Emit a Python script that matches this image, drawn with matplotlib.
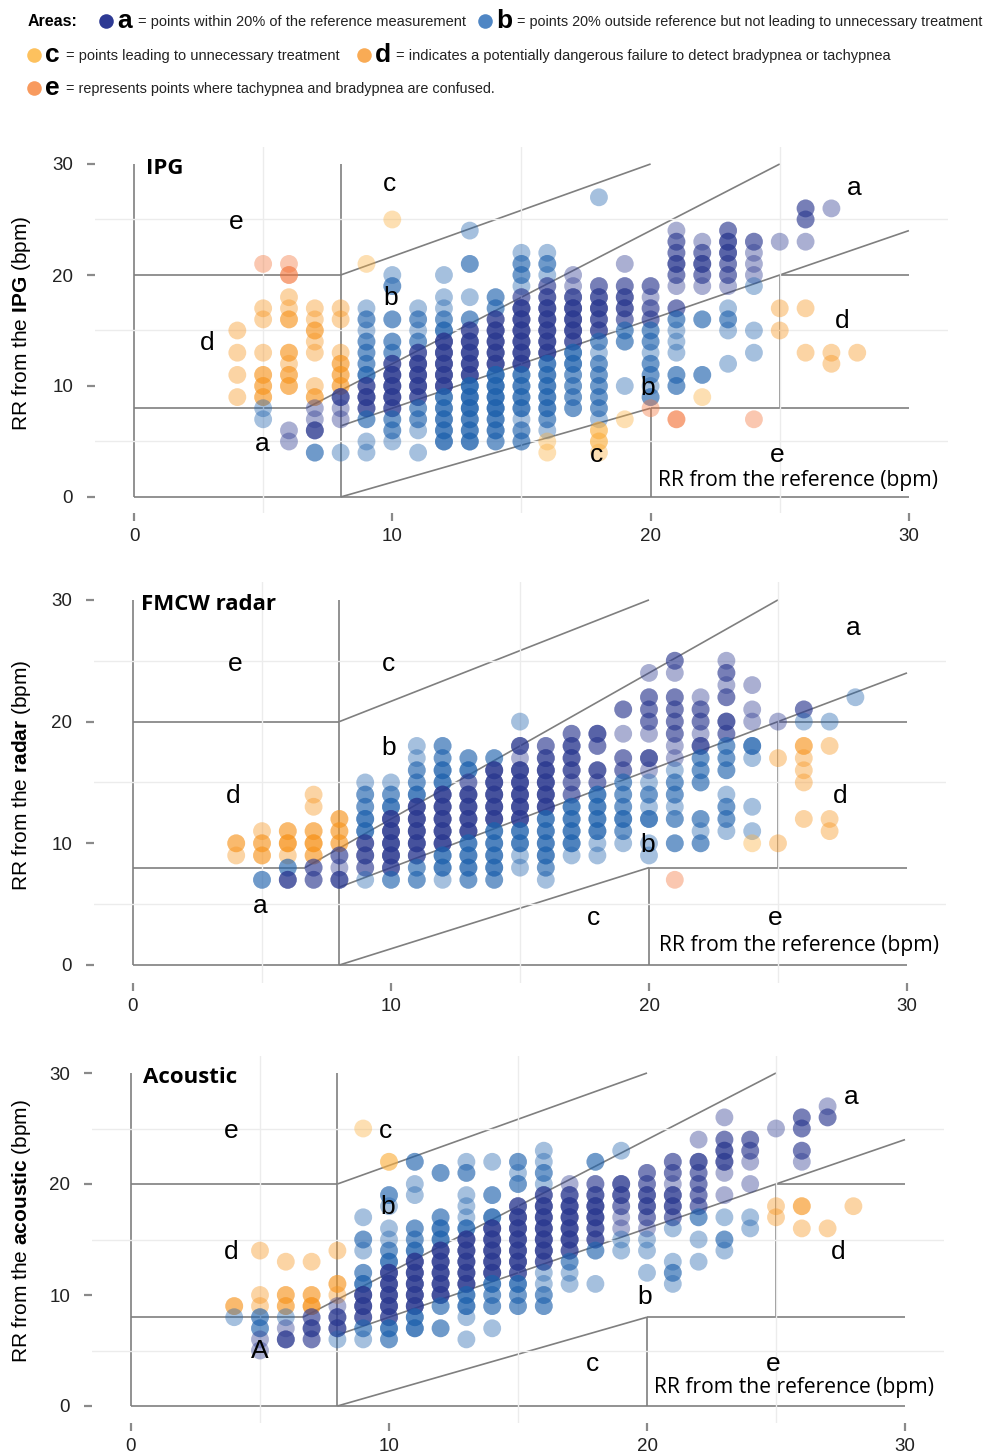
import numpy as np
import matplotlib.pyplot as plt

plt.rcParams["mathtext.fontset"] = "custom"
plt.rcParams["mathtext.rm"] = "Liberation Sans"
plt.rcParams["mathtext.bf"] = "Liberation Sans:bold"

# (x = reference RR, y = device RR, n = overlapping readings)
IPG_PTS = [
    (4, 15, 1), (4, 13, 1), (4, 11, 1), (4, 9, 1),
    (5, 21, 1), (5, 17, 1), (5, 16, 1), (5, 13, 1), (5, 11, 2), (5, 10, 2), (5, 9, 2), (5, 8, 1), (5, 7, 1),
    (6, 21, 1), (6, 20, 2), (6, 18, 1), (6, 17, 1), (6, 16, 2), (6, 13, 2), (6, 12, 1), (6, 11, 2), (6, 10, 2),
    (6, 6, 1), (6, 5, 1),
    (7, 17, 1), (7, 16, 1), (7, 15, 2), (7, 14, 1), (7, 13, 1), (7, 10, 1), (7, 9, 2), (7, 8, 1), (7, 7, 1),
    (7, 6, 3), (7, 4, 2),
    (8, 17, 1), (8, 16, 1), (8, 13, 1), (8, 12, 2), (8, 11, 2), (8, 10, 2), (8, 9, 3), (8, 8, 1), (8, 7, 1), (8, 4, 1),
    (9, 21, 1), (9, 17, 1), (9, 16, 2), (9, 15, 1), (9, 14, 2), (9, 13, 2), (9, 12, 2), (9, 11, 3), (9, 10, 3),
    (9, 9, 4), (9, 8, 3), (9, 7, 2), (9, 5, 1), (9, 4, 1),
    (10, 25, 1), (10, 20, 1), (10, 19, 2), (10, 16, 2), (10, 14, 2), (10, 13, 2), (10, 12, 3), (10, 11, 4),
    (10, 10, 4), (10, 9, 4), (10, 8, 3), (10, 7, 2), (10, 6, 2), (10, 5, 1),
    (11, 17, 1), (11, 16, 2), (11, 15, 1), (11, 14, 2), (11, 13, 3), (11, 12, 4), (11, 11, 4), (11, 10, 4),
    (11, 9, 3), (11, 8, 2), (11, 7, 2), (11, 6, 1), (11, 4, 1),
    (12, 20, 1), (12, 18, 1), (12, 17, 1), (12, 16, 2), (12, 15, 3), (12, 14, 4), (12, 13, 4), (12, 12, 4),
    (12, 11, 4), (12, 10, 4), (12, 9, 3), (12, 8, 3), (12, 7, 3), (12, 6, 3), (12, 5, 3),
    (13, 24, 1), (13, 21, 2), (13, 18, 1), (13, 16, 2), (13, 15, 3), (13, 14, 4), (13, 13, 4), (13, 12, 4),
    (13, 11, 4), (13, 10, 4), (13, 9, 4), (13, 8, 4), (13, 7, 3), (13, 6, 3), (13, 5, 3),
    (14, 18, 2), (14, 17, 2), (14, 16, 3), (14, 15, 4), (14, 14, 4), (14, 13, 4), (14, 12, 4), (14, 11, 4),
    (14, 10, 4), (14, 9, 4), (14, 8, 4), (14, 7, 3), (14, 6, 3), (14, 5, 2),
    (15, 22, 1), (15, 21, 2), (15, 20, 2), (15, 19, 1), (15, 18, 2), (15, 17, 4), (15, 16, 4), (15, 15, 4),
    (15, 14, 4), (15, 13, 4), (15, 12, 4), (15, 11, 3), (15, 10, 3), (15, 9, 3), (15, 8, 3), (15, 7, 1),
    (15, 6, 2), (15, 5, 2),
    (16, 22, 1), (16, 21, 2), (16, 20, 1), (16, 19, 2), (16, 18, 3), (16, 17, 4), (16, 16, 4), (16, 15, 4),
    (16, 14, 4), (16, 13, 4), (16, 12, 3), (16, 11, 3), (16, 10, 3), (16, 9, 3), (16, 8, 3), (16, 7, 2),
    (16, 6, 1), (16, 5, 1), (16, 4, 1),
    (17, 20, 1), (17, 19, 1), (17, 18, 3), (17, 17, 4), (17, 16, 4), (17, 15, 4), (17, 14, 3), (17, 13, 3),
    (17, 12, 3), (17, 11, 2), (17, 10, 2), (17, 9, 2), (17, 8, 2),
    (18, 27, 1), (18, 19, 2), (18, 18, 3), (18, 17, 4), (18, 16, 3), (18, 15, 3), (18, 14, 2), (18, 13, 1),
    (18, 12, 2), (18, 11, 2), (18, 10, 2), (18, 9, 2), (18, 8, 2), (18, 7, 1), (18, 6, 2), (18, 5, 2), (18, 4, 1),
    (19, 21, 1), (19, 19, 2), (19, 18, 3), (19, 17, 3), (19, 16, 2), (19, 15, 2), (19, 14, 2), (19, 10, 1), (19, 7, 1),
    (20, 19, 2), (20, 18, 1), (20, 17, 2), (20, 16, 2), (20, 15, 2), (20, 14, 2), (20, 13, 1), (20, 12, 2),
    (20, 11, 2), (20, 10, 1), (20, 9, 2), (20, 8, 1),
    (21, 24, 1), (21, 23, 2), (21, 22, 2), (21, 21, 3), (21, 20, 2), (21, 19, 1), (21, 17, 2), (21, 16, 2),
    (21, 15, 1), (21, 14, 1), (21, 13, 1), (21, 11, 2), (21, 10, 2), (21, 7, 2),
    (22, 23, 1), (22, 22, 2), (22, 21, 3), (22, 20, 2), (22, 19, 1), (22, 16, 2), (22, 11, 2), (22, 9, 1),
    (23, 24, 2), (23, 23, 3), (23, 22, 3), (23, 21, 2), (23, 20, 2), (23, 19, 1), (23, 17, 1), (23, 16, 2),
    (23, 15, 1), (23, 12, 1),
    (24, 23, 2), (24, 22, 1), (24, 21, 1), (24, 20, 1), (24, 19, 1), (24, 15, 1), (24, 13, 1), (24, 7, 1),
    (25, 23, 1), (25, 17, 1), (25, 15, 1),
    (26, 26, 2), (26, 25, 2), (26, 23, 1), (26, 17, 1), (26, 13, 1),
    (27, 26, 1), (27, 13, 1), (27, 12, 1),
    (28, 13, 1),
]

RADAR_PTS = [
    (4, 10, 2), (4, 9, 1),
    (5, 11, 1), (5, 10, 2), (5, 9, 2), (5, 7, 2),
    (6, 11, 2), (6, 10, 3), (6, 9, 1), (6, 8, 2), (6, 7, 3),
    (7, 14, 1), (7, 13, 1), (7, 11, 2), (7, 10, 3), (7, 9, 2), (7, 8, 2), (7, 7, 2),
    (8, 12, 2), (8, 11, 2), (8, 10, 2), (8, 9, 2), (8, 8, 1), (8, 7, 3),
    (9, 15, 1), (9, 14, 2), (9, 13, 2), (9, 12, 3), (9, 11, 3), (9, 10, 3), (9, 9, 3), (9, 8, 2), (9, 7, 1),
    (10, 15, 1), (10, 14, 2), (10, 13, 3), (10, 12, 4), (10, 11, 4), (10, 10, 4), (10, 9, 4), (10, 8, 3), (10, 7, 2),
    (11, 18, 1), (11, 17, 1), (11, 16, 2), (11, 15, 2), (11, 14, 3), (11, 13, 4), (11, 12, 4), (11, 11, 4),
    (11, 10, 4), (11, 9, 3), (11, 8, 2), (11, 7, 2),
    (12, 18, 2), (12, 17, 2), (12, 16, 3), (12, 15, 3), (12, 14, 4), (12, 13, 4), (12, 12, 4), (12, 11, 4),
    (12, 10, 4), (12, 9, 3), (12, 8, 3), (12, 7, 1),
    (13, 17, 2), (13, 16, 3), (13, 15, 2), (13, 14, 4), (13, 13, 4), (13, 12, 4), (13, 11, 4), (13, 10, 3),
    (13, 9, 3), (13, 8, 3), (13, 7, 2),
    (14, 17, 2), (14, 16, 4), (14, 15, 4), (14, 14, 4), (14, 13, 4), (14, 12, 4), (14, 11, 3), (14, 10, 3),
    (14, 9, 3), (14, 8, 3), (14, 7, 2),
    (15, 20, 1), (15, 18, 3), (15, 17, 1), (15, 16, 4), (15, 15, 4), (15, 14, 4), (15, 13, 4), (15, 12, 4),
    (15, 11, 3), (15, 10, 3), (15, 9, 1), (15, 8, 1),
    (16, 18, 2), (16, 17, 3), (16, 16, 4), (16, 15, 4), (16, 14, 4), (16, 13, 4), (16, 12, 3), (16, 11, 3),
    (16, 10, 3), (16, 9, 3), (16, 8, 2), (16, 7, 1),
    (17, 19, 2), (17, 18, 3), (17, 17, 3), (17, 16, 3), (17, 15, 2), (17, 14, 2), (17, 13, 3), (17, 12, 3),
    (17, 11, 3), (17, 10, 3), (17, 9, 1),
    (18, 19, 3), (18, 18, 2), (18, 16, 3), (18, 15, 2), (18, 14, 3), (18, 13, 3), (18, 12, 3), (18, 11, 3),
    (18, 10, 1), (18, 9, 1),
    (19, 21, 2), (19, 19, 1), (19, 17, 2), (19, 16, 2), (19, 15, 2), (19, 14, 2), (19, 13, 2), (19, 12, 3),
    (19, 11, 2), (19, 10, 1),
    (20, 24, 1), (20, 22, 2), (20, 21, 2), (20, 20, 2), (20, 19, 1), (20, 17, 3), (20, 16, 1), (20, 15, 1),
    (20, 14, 2), (20, 13, 1), (20, 12, 3), (20, 10, 1), (20, 9, 1),
    (21, 25, 2), (21, 24, 1), (21, 22, 2), (21, 21, 2), (21, 20, 2), (21, 19, 2), (21, 18, 1), (21, 17, 1),
    (21, 16, 1), (21, 15, 2), (21, 14, 2), (21, 13, 1), (21, 12, 2), (21, 10, 2), (21, 7, 1),
    (22, 22, 1), (22, 21, 2), (22, 20, 2), (22, 19, 1), (22, 18, 3), (22, 17, 2), (22, 16, 2), (22, 15, 2),
    (22, 12, 2), (22, 11, 1), (22, 10, 2),
    (23, 25, 1), (23, 24, 2), (23, 23, 1), (23, 22, 2), (23, 20, 3), (23, 19, 2), (23, 18, 2), (23, 17, 2),
    (23, 16, 2), (23, 14, 1), (23, 13, 2), (23, 12, 2), (23, 11, 1),
    (24, 23, 1), (24, 21, 1), (24, 20, 1), (24, 18, 3), (24, 17, 1), (24, 13, 1), (24, 11, 1), (24, 10, 1),
    (25, 20, 1), (25, 17, 1), (25, 10, 1),
    (26, 21, 2), (26, 20, 1), (26, 18, 2), (26, 17, 1), (26, 16, 1), (26, 15, 1), (26, 12, 1),
    (27, 20, 1), (27, 18, 1), (27, 12, 1), (27, 11, 1),
    (28, 22, 1),
]

ACOUSTIC_PTS = [
    (4, 9, 2), (4, 8, 1),
    (5, 14, 1), (5, 10, 1), (5, 9, 1), (5, 8, 2), (5, 7, 2), (5, 6, 1), (5, 5, 1),
    (6, 13, 1), (6, 10, 2), (6, 9, 2), (6, 8, 1), (6, 7, 1), (6, 6, 3),
    (7, 13, 1), (7, 10, 2), (7, 9, 3), (7, 8, 2), (7, 7, 3), (7, 6, 2),
    (8, 14, 1), (8, 11, 2), (8, 10, 1), (8, 9, 1), (8, 8, 3), (8, 7, 3), (8, 6, 1),
    (9, 25, 1), (9, 17, 1), (9, 15, 2), (9, 14, 1), (9, 12, 2), (9, 11, 3), (9, 10, 4), (9, 9, 4), (9, 8, 3),
    (9, 7, 2), (9, 6, 1),
    (10, 22, 2), (10, 19, 2), (10, 18, 1), (10, 16, 1), (10, 15, 1), (10, 14, 2), (10, 13, 3), (10, 12, 4),
    (10, 11, 4), (10, 10, 4), (10, 9, 4), (10, 8, 3), (10, 7, 3), (10, 6, 2),
    (11, 22, 2), (11, 20, 1), (11, 19, 1), (11, 16, 2), (11, 15, 2), (11, 14, 3), (11, 13, 4), (11, 12, 4),
    (11, 11, 4), (11, 10, 4), (11, 9, 4), (11, 8, 3), (11, 7, 3),
    (12, 21, 2), (12, 17, 2), (12, 16, 3), (12, 15, 3), (12, 14, 4), (12, 13, 4), (12, 12, 4), (12, 11, 4),
    (12, 10, 4), (12, 9, 2), (12, 7, 2),
    (13, 22, 1), (13, 21, 2), (13, 19, 1), (13, 18, 1), (13, 17, 1), (13, 16, 3), (13, 15, 4), (13, 14, 4),
    (13, 13, 4), (13, 12, 4), (13, 11, 4), (13, 10, 3), (13, 9, 3), (13, 8, 1), (13, 6, 1),
    (14, 22, 1), (14, 19, 2), (14, 17, 3), (14, 16, 4), (14, 15, 4), (14, 14, 4), (14, 13, 4), (14, 12, 4),
    (14, 11, 3), (14, 10, 2), (14, 9, 2), (14, 7, 1),
    (15, 22, 2), (15, 21, 1), (15, 20, 2), (15, 18, 3), (15, 17, 4), (15, 16, 4), (15, 15, 4), (15, 14, 4),
    (15, 13, 4), (15, 12, 3), (15, 11, 3), (15, 10, 2), (15, 9, 2),
    (16, 23, 1), (16, 22, 1), (16, 21, 2), (16, 20, 1), (16, 19, 3), (16, 18, 4), (16, 17, 4), (16, 16, 4),
    (16, 15, 4), (16, 14, 4), (16, 13, 3), (16, 12, 1), (16, 11, 1), (16, 10, 2), (16, 9, 2),
    (17, 20, 1), (17, 19, 3), (17, 18, 4), (17, 17, 4), (17, 16, 4), (17, 15, 4), (17, 14, 3), (17, 13, 2),
    (17, 12, 1), (17, 11, 1),
    (18, 22, 2), (18, 20, 2), (18, 19, 3), (18, 18, 4), (18, 17, 4), (18, 16, 3), (18, 15, 3), (18, 14, 2), (18, 11, 1),
    (19, 23, 1), (19, 20, 3), (19, 19, 3), (19, 18, 2), (19, 17, 1), (19, 16, 1), (19, 15, 1), (19, 14, 1),
    (20, 21, 2), (20, 20, 2), (20, 19, 3), (20, 18, 3), (20, 17, 2), (20, 16, 1), (20, 15, 1), (20, 14, 1), (20, 12, 1),
    (21, 22, 2), (21, 21, 2), (21, 20, 1), (21, 19, 3), (21, 18, 3), (21, 17, 2), (21, 16, 1), (21, 13, 1),
    (21, 12, 2), (21, 11, 1),
    (22, 24, 1), (22, 22, 3), (22, 21, 2), (22, 20, 2), (22, 19, 2), (22, 18, 2), (22, 17, 2), (22, 15, 1), (22, 13, 1),
    (23, 26, 1), (23, 24, 2), (23, 23, 3), (23, 22, 3), (23, 21, 1), (23, 19, 1), (23, 17, 1), (23, 15, 2), (23, 14, 1),
    (24, 24, 2), (24, 23, 2), (24, 22, 1), (24, 20, 1), (24, 17, 1), (24, 16, 1),
    (25, 25, 1), (25, 18, 1), (25, 17, 1),
    (26, 26, 2), (26, 25, 2), (26, 23, 2), (26, 22, 1), (26, 18, 2), (26, 16, 1),
    (27, 27, 1), (27, 26, 2), (27, 16, 1),
    (28, 18, 1),
]

ZONE_COLORS = {"a": "#2b3990", "b": "#1f62ad", "c": "#fbb040", "d": "#f7941d", "e": "#f3743a"}
LEGEND_DOTS = {"a": "#2e3a94", "b": "#4f86c4", "c": "#fdc15e", "d": "#f9ab55", "e": "#f89a5e"}
LEGEND_TEXT = {
    "a": "= points within 20% of the reference measurement",
    "b": "= points 20% outside reference but not leading to unnecessary treatment",
    "c": "= points leading to unnecessary treatment",
    "d": "= indicates a potentially dangerous failure to detect bradypnea or tachypnea",
    "e": "= represents points where tachypnea and bradypnea are confused.",
}

W, H = 987, 1456
LINE_C = "#7f7f7f"


def zone(x, y):
    if 0.8 * x <= y <= 1.2 * x:
        return "a"
    if (x < 8 and y >= 20) or (x >= 20 and y <= 8):
        return "e"
    if (x <= 8 or x >= 25) and 8 < y < 20:
        return "d"
    if x >= 8 and (y > 20 + (x - 8) * 10 / 12 or y < (x - 8) * 8 / 12):
        return "c"
    return "b"


def draw_panel(fig, pts, x0, xs, y0, ys, ybot, title, ylab, ylab_y, letters, ref_xy):
    left = (x0 - 1.5 * xs) / W
    width = 33 * xs / W
    bottom = 1 - (y0 - ybot * ys) / H
    height = (31.5 - ybot) * ys / H
    ax = fig.add_axes([left, bottom, width, height])
    ax.set_xlim(-1.5, 31.5)
    ax.set_ylim(ybot, 31.5)

    for s in ax.spines.values():
        s.set_visible(False)
    ax.set_xticks([0, 10, 20, 30])
    ax.set_yticks([0, 10, 20, 30])
    ax.set_xticks([5, 15, 25], minor=True)
    ax.set_yticks([5, 15, 25], minor=True)
    ax.grid(which="minor", color="#ececec", linewidth=1.0)
    ax.tick_params(which="minor", length=0)
    ax.tick_params(which="major", length=6, width=1.6, color="#8a8a8a",
                   labelsize=13.5, labelcolor="#222222")
    ax.tick_params(axis="y", pad=10)
    ax.tick_params(axis="x", pad=5)
    for lab in ax.get_xticklabels() + ax.get_yticklabels():
        lab.set_family("Liberation Sans")

    # zone boundaries
    segs = [
        ([0, 0], [0, 30]), ([0, 30], [0, 0]), ([8, 8], [0, 30]), ([0, 8], [20, 20]),
        ([0, 8 / 1.2], [8, 8]), ([8 / 1.2, 25], [8, 30]), ([8, 30], [6.4, 24]),
        ([8, 20], [20, 30]), ([8, 20], [0, 8]), ([20, 20], [0, 8]), ([20, 30], [8, 8]),
        ([25, 25], [8, 20]), ([25, 30], [20, 20]),
    ]
    for sx, sy in segs:
        ax.plot(sx, sy, color=LINE_C, linewidth=1.2, zorder=1, solid_capstyle="butt")

    arr = np.array(pts)
    n = arr[:, 2]
    px = np.repeat(arr[:, 0], n)
    py = np.repeat(arr[:, 1], n)
    cols = [ZONE_COLORS[zone(a, b)] for a, b in zip(px, py)]
    ax.scatter(px, py, s=165, c=cols, alpha=0.4, linewidths=0, zorder=2)

    for txt, (lx, ly) in letters:
        ax.text(lx, ly, txt, fontsize=19, family="Liberation Sans",
                ha="center", va="center", zorder=5)
    ax.text(ref_xy[0], ref_xy[1], "RR from the reference (bpm)", fontsize=15.2,
            family="Open Sans", ha="center", va="center", zorder=5)
    ax.text(title[1], 29.6, title[0], fontsize=16, family="Open Sans",
            fontweight="bold", ha="left", va="center", zorder=5)

    fig.text(22 / W, 1 - ylab_y / H, ylab, rotation=90, fontsize=15,
             family="Liberation Sans", ha="center", va="center")
    return ax


fig = plt.figure(figsize=(W / 100, H / 100), dpi=100)

draw_panel(fig, IPG_PTS, 134, 25.83, 497, 11.1, -1.45, ("IPG", 0.45),
           "RR from the $\\mathbf{IPG}$ (bpm)", 323,
           [("a", (27.9, 27.8)), ("c", (9.9, 28.2)), ("e", (3.95, 24.8)), ("b", (9.95, 17.9)),
            ("d", (2.85, 13.9)), ("d", (27.4, 15.9)), ("b", (19.9, 9.8)), ("a", (4.95, 4.8)),
            ("c", (17.9, 3.8)), ("e", (24.9, 3.8))],
           (25.7, 1.45))

draw_panel(fig, RADAR_PTS, 133, 25.8, 965, 12.17, -1.45, ("FMCW radar", 0.3),
           "RR from the $\\mathbf{radar}$ (bpm)", 775,
           [("a", (27.9, 27.7)), ("c", (9.9, 24.75)), ("e", (3.95, 24.75)), ("b", (9.9, 17.8)),
            ("d", (3.9, 13.85)), ("d", (27.4, 13.85)), ("b", (19.95, 9.85)), ("a", (4.95, 4.85)),
            ("c", (17.85, 3.85)), ("e", (24.9, 3.85))],
           (25.8, 1.6))

draw_panel(fig, ACOUSTIC_PTS, 131, 25.8, 1406, 11.1, -1.55, ("Acoustic", 0.45),
           "RR from the $\\mathbf{acoustic}$ (bpm)", 1231,
           [("a", (27.9, 27.8)), ("c", (9.85, 24.8)), ("e", (3.9, 24.8)), ("b", (9.95, 17.9)),
            ("d", (3.9, 13.9)), ("d", (27.4, 13.9)), ("b", (19.9, 9.8)), ("A", (5.0, 5.0)),
            ("c", (17.9, 3.8)), ("e", (24.9, 3.8))],
           (25.7, 1.7))

# legend header, in pixel coordinates
lg = fig.add_axes([0, 0, 1, 1], zorder=-1)
lg.set_xlim(0, W)
lg.set_ylim(H, 0)
lg.axis("off")
lg.text(28, 26, "Areas:", fontsize=11.5, family="Liberation Sans", fontweight="bold",
        va="baseline")
# dot x, dot y, right edge of the description text
legend_rows = [("a", 106, 21, 463), ("b", 485, 21, 981), ("c", 34, 55, 338),
               ("d", 364, 55, 886), ("e", 34, 88, 494)]
descs = []
for key, dx, dy, right in legend_rows:
    lg.scatter([dx], [dy], s=110, color=LEGEND_DOTS[key], linewidths=0)
    lg.text(dx + 11, dy + 7, key, fontsize=19, family="Liberation Sans", fontweight="bold",
            va="baseline")
    t = lg.text(dx + 32, dy + 5, LEGEND_TEXT[key], fontsize=11, family="Liberation Sans",
                va="baseline", color="#222222")
    descs.append((t, right - (dx + 32)))

# shrink each description to the width it takes in the figure
renderer = fig.canvas.get_renderer()
for t, target in descs:
    w = t.get_window_extent(renderer).width
    t.set_fontsize(t.get_fontsize() * target / w)

fig.savefig("out.png", dpi=100)
